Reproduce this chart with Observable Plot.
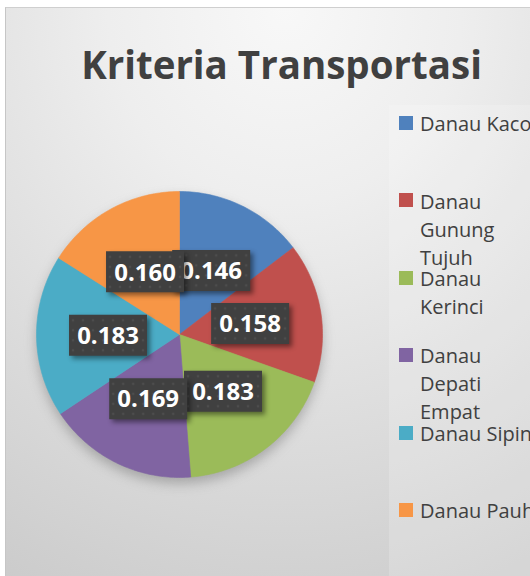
<!DOCTYPE html>
<html>
<head>
<meta charset="utf-8">
<script src="https://cdn.jsdelivr.net/npm/d3@7"></script>
<script src="https://cdn.jsdelivr.net/npm/@observablehq/plot@0.6"></script>
<style>
html, body { margin: 0; padding: 0; background: #fff; }
#wrap { position: relative; width: 530px; height: 576px; overflow: hidden; font-family: "Open Sans", sans-serif; }
#frame { position: absolute; left: 5px; top: 7px; width: 620px; height: 620px;
  border-left: 1px solid #c6c6c6; border-top: 1px solid #cfcfcf;
  background: radial-gradient(ellipse 95% 105% at 45% 0%, #f8f8f8 0%, #eeeeee 30%, #dadada 70%, #cbcbcb 100%); }
#legendbg { position: absolute; left: 389px; top: 105px; width: 200px; height: 520px; background: rgba(255,255,255,0.18); }
#chart { position: absolute; left: 0; top: 0; }
.legend-sq { position: absolute; width: 14px; height: 14px; }
.legend-tx { position: absolute; width: 122px; font-size: 20px; line-height: 28px; color: #404040; white-space: normal; }
.pie-shadow { filter: blur(6px); }
.lbl { filter: drop-shadow(3px 3px 2.5px rgba(0,0,0,0.45)); }
</style>
</head>
<body>
<svg width="0" height="0" style="position:absolute">
  <defs>
    <pattern id="dots" width="10" height="10" patternUnits="userSpaceOnUse">
      <rect width="10" height="10" fill="#404040"></rect>
      <circle cx="5" cy="5" r="1.3" fill="#4d4d4d"></circle>
    </pattern>
  </defs>
</svg>
<div id="wrap">
  <div id="frame"></div>
  <div id="legendbg"></div>
  <div id="chart"></div>
  <div id="legend"></div>
</div>
<script>
// ---- data ----
const title = "Kriteria Transportasi";
const categories = ["Danau Kaco", "Danau Gunung Tujuh", "Danau Kerinci", "Danau Depati Empat", "Danau Sipin", "Danau Pauh"];
const values = [0.146, 0.158, 0.183, 0.169, 0.183, 0.160];
const colors = ["#4F81BD", "#C0504D", "#9BBB59", "#8064A2", "#4BACC6", "#F79646"];

// ---- layout ----
const W = 530, H = 576;
const cx = 179, cy = 334, R = 143;
const fmt = d3.format(".3f");

const arcs = d3.pie().sort(null).value(d => d)(values);

function arcPoints(a0, a1, withCenter) {
  const pts = withCenter ? [{x: 0, y: 0}] : [];
  const n = Math.max(2, Math.ceil((a1 - a0) / (Math.PI / 180)));
  for (let k = 0; k <= n; k++) {
    const t = a0 + (a1 - a0) * k / n;
    pts.push({x: Math.sin(t), y: Math.cos(t)});
  }
  if (withCenter) pts.push({x: 0, y: 0});
  return pts;
}

const slices = arcs.map(a => arcPoints(a.startAngle, a.endAngle, true));
const disc = arcPoints(0, 2 * Math.PI, false);

const labelData = arcs.map((a, i) => {
  const m = (a.startAngle + a.endAngle) / 2;
  return {x: 0.5 * Math.sin(m), y: 0.5 * Math.cos(m), text: fmt(values[i]), i};
});

const boxSymbol = { draw(ctx) { ctx.rect(-39, -20.5, 78, 41); } };

const marks = [
  Plot.line(disc, {x: "x", y: "y", fill: "#6a6a6a", fillOpacity: 0.45, stroke: "none", dy: 6, className: "pie-shadow"}),
  ...slices.map((pts, i) => Plot.line(pts, {x: "x", y: "y", fill: colors[i], stroke: colors[i], strokeWidth: 0.6})),
  ...labelData.flatMap(d => [
    Plot.dot([d], {x: "x", y: "y", symbol: boxSymbol, r: 10, fill: "url(#dots)", stroke: "none", className: "lbl"}),
    Plot.text([d], {x: "x", y: "y", text: "text", fill: "white", fontSize: 24, fontWeight: "bold", fontFamily: "Open Sans", dy: 1})
  ]),
  Plot.text([title], {frameAnchor: "top-left", dx: 281, dy: 78, lineAnchor: "bottom", textAnchor: "middle",
    fontSize: 38.5, fontWeight: "bold", fill: "#404040", fontFamily: "Open Sans"})
];

const chart = Plot.plot({
  width: W, height: H, margin: 0,
  x: {domain: [-1, 1], range: [cx - R, cx + R], axis: null},
  y: {domain: [-1, 1], range: [cy + R, cy - R], axis: null},
  style: {background: "transparent", overflow: "visible"},
  marks
});
document.getElementById("chart").appendChild(chart);

// ---- legend ----
const legendTop = 116, legendStep = 77.4;
const lg = d3.select("#legend");
categories.forEach((c, i) => {
  const t = legendTop + i * legendStep;
  lg.append("div").attr("class", "legend-sq")
    .style("left", "399px").style("top", t + "px").style("background", colors[i]);
  lg.append("div").attr("class", "legend-tx")
    .style("left", "420px").style("top", (t - 5.8) + "px").text(c);
});
</script>
</body>
</html>
